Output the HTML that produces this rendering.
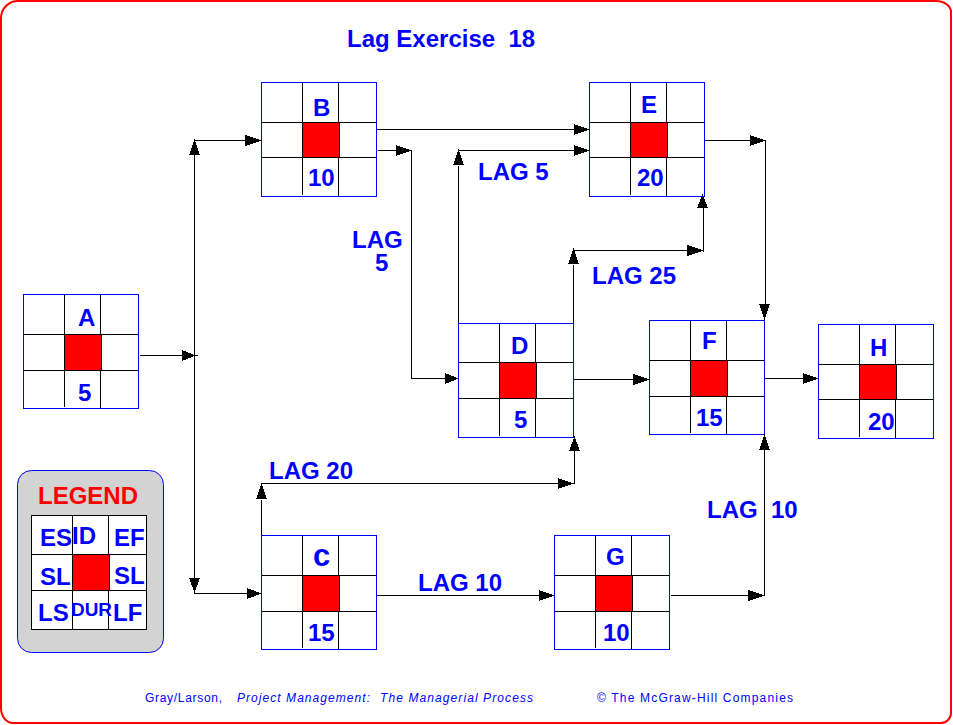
<!DOCTYPE html>
<html><head><meta charset="utf-8"><style>
html,body{margin:0;padding:0;background:#fff;}
body{width:953px;height:725px;overflow:hidden;position:relative;}
svg{position:absolute;left:0;top:0;display:block;}
text{font-family:"Liberation Sans",sans-serif;white-space:pre;}
</style></head><body>
<svg width="953" height="725" viewBox="0 0 953 725">
<path d="M18,1 H936 A15,11 0 0 1 951,12 V713 A10,10 0 0 1 941,723 H13 A12,15 0 0 1 1,708 V18 A17,17 0 0 1 18,1 Z" fill="none" stroke="#ff0000" stroke-width="2"/>
<rect x="17.5" y="470.5" width="146" height="182" rx="14" ry="14" fill="#d3d3d3" stroke="#0000ff" stroke-width="1"/>
<rect x="31" y="515" width="116" height="115" fill="#fff"/>
<g shape-rendering="crispEdges">
<rect x="65" y="335" width="36" height="35" fill="#ff0000"/>
<rect x="64" y="294" width="1" height="113" fill="#000000"/>
<rect x="100" y="294" width="1" height="40" fill="#000000"/>
<rect x="100" y="371" width="1" height="38" fill="#000000"/>
<rect x="101" y="334" width="1" height="37" fill="#000000"/>
<rect x="23" y="334" width="116" height="1" fill="#000000"/>
<rect x="23" y="370" width="116" height="1" fill="#000000"/>
<rect x="23" y="294" width="116" height="1" fill="#0000ff"/>
<rect x="23" y="408" width="116" height="1" fill="#0000ff"/>
<rect x="23" y="294" width="1" height="115" fill="#0000ff"/>
<rect x="138" y="294" width="1" height="115" fill="#0000ff"/>
<rect x="303" y="123" width="36" height="34" fill="#ff0000"/>
<rect x="302" y="82" width="1" height="113" fill="#000000"/>
<rect x="338" y="82" width="1" height="40" fill="#000000"/>
<rect x="338" y="158" width="1" height="39" fill="#000000"/>
<rect x="339" y="122" width="1" height="36" fill="#000000"/>
<rect x="261" y="122" width="116" height="1" fill="#000000"/>
<rect x="261" y="157" width="116" height="1" fill="#000000"/>
<rect x="261" y="82" width="116" height="1" fill="#0000ff"/>
<rect x="261" y="196" width="116" height="1" fill="#0000ff"/>
<rect x="261" y="82" width="1" height="115" fill="#0000ff"/>
<rect x="376" y="82" width="1" height="115" fill="#0000ff"/>
<rect x="303" y="576" width="36" height="35" fill="#ff0000"/>
<rect x="302" y="535" width="1" height="113" fill="#000000"/>
<rect x="338" y="535" width="1" height="40" fill="#000000"/>
<rect x="338" y="612" width="1" height="38" fill="#000000"/>
<rect x="339" y="575" width="1" height="37" fill="#000000"/>
<rect x="261" y="575" width="116" height="1" fill="#000000"/>
<rect x="261" y="611" width="116" height="1" fill="#000000"/>
<rect x="261" y="535" width="116" height="1" fill="#0000ff"/>
<rect x="261" y="649" width="116" height="1" fill="#0000ff"/>
<rect x="261" y="535" width="1" height="115" fill="#0000ff"/>
<rect x="376" y="535" width="1" height="115" fill="#0000ff"/>
<rect x="500" y="363" width="36" height="35" fill="#ff0000"/>
<rect x="499" y="323" width="1" height="113" fill="#000000"/>
<rect x="535" y="323" width="1" height="39" fill="#000000"/>
<rect x="535" y="399" width="1" height="39" fill="#000000"/>
<rect x="536" y="362" width="1" height="37" fill="#000000"/>
<rect x="458" y="362" width="116" height="1" fill="#000000"/>
<rect x="458" y="398" width="116" height="1" fill="#000000"/>
<rect x="458" y="323" width="116" height="1" fill="#0000ff"/>
<rect x="458" y="437" width="116" height="1" fill="#0000ff"/>
<rect x="458" y="323" width="1" height="115" fill="#0000ff"/>
<rect x="573" y="323" width="1" height="115" fill="#0000ff"/>
<rect x="631" y="123" width="36" height="34" fill="#ff0000"/>
<rect x="630" y="82" width="1" height="113" fill="#000000"/>
<rect x="666" y="82" width="1" height="40" fill="#000000"/>
<rect x="666" y="158" width="1" height="39" fill="#000000"/>
<rect x="667" y="122" width="1" height="36" fill="#000000"/>
<rect x="589" y="122" width="116" height="1" fill="#000000"/>
<rect x="589" y="157" width="116" height="1" fill="#000000"/>
<rect x="589" y="82" width="116" height="1" fill="#0000ff"/>
<rect x="589" y="196" width="116" height="1" fill="#0000ff"/>
<rect x="589" y="82" width="1" height="115" fill="#0000ff"/>
<rect x="704" y="82" width="1" height="115" fill="#0000ff"/>
<rect x="691" y="361" width="36" height="35" fill="#ff0000"/>
<rect x="690" y="320" width="1" height="113" fill="#000000"/>
<rect x="726" y="320" width="1" height="40" fill="#000000"/>
<rect x="726" y="397" width="1" height="38" fill="#000000"/>
<rect x="727" y="360" width="1" height="37" fill="#000000"/>
<rect x="649" y="360" width="116" height="1" fill="#000000"/>
<rect x="649" y="396" width="116" height="1" fill="#000000"/>
<rect x="649" y="320" width="116" height="1" fill="#0000ff"/>
<rect x="649" y="434" width="116" height="1" fill="#0000ff"/>
<rect x="649" y="320" width="1" height="115" fill="#0000ff"/>
<rect x="764" y="320" width="1" height="115" fill="#0000ff"/>
<rect x="596" y="576" width="36" height="35" fill="#ff0000"/>
<rect x="595" y="535" width="1" height="113" fill="#000000"/>
<rect x="631" y="535" width="1" height="40" fill="#000000"/>
<rect x="631" y="612" width="1" height="38" fill="#000000"/>
<rect x="632" y="575" width="1" height="37" fill="#000000"/>
<rect x="554" y="575" width="116" height="1" fill="#000000"/>
<rect x="554" y="611" width="116" height="1" fill="#000000"/>
<rect x="554" y="535" width="116" height="1" fill="#0000ff"/>
<rect x="554" y="649" width="116" height="1" fill="#0000ff"/>
<rect x="554" y="535" width="1" height="115" fill="#0000ff"/>
<rect x="669" y="535" width="1" height="115" fill="#0000ff"/>
<rect x="860" y="365" width="36" height="34" fill="#ff0000"/>
<rect x="859" y="324" width="1" height="113" fill="#000000"/>
<rect x="895" y="324" width="1" height="40" fill="#000000"/>
<rect x="895" y="400" width="1" height="39" fill="#000000"/>
<rect x="896" y="364" width="1" height="36" fill="#000000"/>
<rect x="818" y="364" width="116" height="1" fill="#000000"/>
<rect x="818" y="399" width="116" height="1" fill="#000000"/>
<rect x="818" y="324" width="116" height="1" fill="#0000ff"/>
<rect x="818" y="438" width="116" height="1" fill="#0000ff"/>
<rect x="818" y="324" width="1" height="115" fill="#0000ff"/>
<rect x="933" y="324" width="1" height="115" fill="#0000ff"/>
<rect x="140" y="355" width="58" height="1" fill="#000000"/>
<polygon points="182,350 195.8,355.5 182,361" fill="#000"/>
<rect x="194" y="155" width="1" height="423" fill="#000000"/>
<polygon points="189,155 194.5,139.2 200,155" fill="#000"/>
<polygon points="189,578 194.5,592.8 200,578" fill="#000"/>
<rect x="194" y="140" width="67" height="1" fill="#000000"/>
<polygon points="245,135 261.8,140.5 245,146" fill="#000"/>
<rect x="194" y="593" width="67" height="1" fill="#000000"/>
<polygon points="247,588 261.8,593.5 247,599" fill="#000"/>
<rect x="377" y="129" width="212" height="1" fill="#000000"/>
<polygon points="574,124 589.8,129.5 574,135" fill="#000"/>
<rect x="378" y="150" width="34" height="1" fill="#000000"/>
<polygon points="396,145 411.8,150.5 396,156" fill="#000"/>
<rect x="411" y="150" width="1" height="229" fill="#000000"/>
<rect x="411" y="378" width="47" height="1" fill="#000000"/>
<polygon points="445,373 458.8,378.5 445,384" fill="#000"/>
<rect x="458" y="166" width="1" height="157" fill="#000000"/>
<polygon points="453,165 458.5,149.2 464,165" fill="#000"/>
<rect x="458" y="150" width="131" height="1" fill="#000000"/>
<polygon points="574,145 589.8,150.5 574,156" fill="#000"/>
<rect x="573" y="265" width="1" height="58" fill="#000000"/>
<polygon points="568,264 573.5,248.2 579,264" fill="#000"/>
<rect x="573" y="250" width="131" height="1" fill="#000000"/>
<polygon points="687,245 703.8,250.5 687,256" fill="#000"/>
<rect x="703" y="208" width="1" height="44" fill="#000000"/>
<polygon points="697,208 702.5,194.2 708,208" fill="#000"/>
<rect x="705" y="140" width="61" height="1" fill="#000000"/>
<polygon points="750,135 765.8,140.5 750,146" fill="#000"/>
<rect x="765" y="141" width="1" height="164" fill="#000000"/>
<polygon points="759,304 764.5,319.8 770,304" fill="#000"/>
<rect x="574" y="379" width="75" height="1" fill="#000000"/>
<polygon points="633,374 649.8,379.5 633,385" fill="#000"/>
<rect x="765" y="378" width="53" height="1" fill="#000000"/>
<polygon points="803,373 818.8,378.5 803,384" fill="#000"/>
<rect x="261" y="500" width="1" height="35" fill="#000000"/>
<polygon points="256,499 261.5,483.2 267,499" fill="#000"/>
<rect x="261" y="483" width="314" height="1" fill="#000000"/>
<polygon points="558,478 573.8,483.5 558,489" fill="#000"/>
<rect x="574" y="451" width="1" height="33" fill="#000000"/>
<polygon points="569,451 574.5,436.2 580,451" fill="#000"/>
<rect x="377" y="595" width="177" height="1" fill="#000000"/>
<polygon points="539,590 554.8,595.5 539,601" fill="#000"/>
<rect x="671" y="595" width="94" height="1" fill="#000000"/>
<polygon points="748,590 764.8,595.5 748,601" fill="#000"/>
<rect x="764" y="450" width="1" height="146" fill="#000000"/>
<polygon points="759,450 764.5,434.2 770,450" fill="#000"/>
<rect x="73" y="555" width="36" height="35" fill="#ff0000"/>
<rect x="31" y="515" width="116" height="1" fill="#000000"/>
<rect x="31" y="629" width="116" height="1" fill="#000000"/>
<rect x="31" y="515" width="1" height="115" fill="#000000"/>
<rect x="146" y="515" width="1" height="115" fill="#000000"/>
<rect x="72" y="515" width="1" height="115" fill="#000000"/>
<rect x="108" y="515" width="1" height="39" fill="#000000"/>
<rect x="108" y="591" width="1" height="39" fill="#000000"/>
<rect x="109" y="554" width="1" height="37" fill="#000000"/>
<rect x="31" y="554" width="116" height="1" fill="#000000"/>
<rect x="31" y="590" width="116" height="1" fill="#000000"/>
</g>
<text x="347" y="47" font-size="24" fill="#0000ff" font-weight="bold" font-style="normal" >Lag Exercise  18</text>
<text x="478" y="180" font-size="24" fill="#0000ff" font-weight="bold" font-style="normal" >LAG 5</text>
<text x="352" y="248" font-size="24" fill="#0000ff" font-weight="bold" font-style="normal" >LAG</text>
<text x="375" y="271" font-size="24" fill="#0000ff" font-weight="bold" font-style="normal" >5</text>
<text x="592" y="284" font-size="24" fill="#0000ff" font-weight="bold" font-style="normal" >LAG 25</text>
<text x="269" y="479" font-size="24" fill="#0000ff" font-weight="bold" font-style="normal" >LAG 20</text>
<text x="418" y="591" font-size="24" fill="#0000ff" font-weight="bold" font-style="normal" >LAG 10</text>
<text x="707" y="518" font-size="24" fill="#0000ff" font-weight="bold" font-style="normal" >LAG  10</text>
<text x="78" y="326" font-size="24" fill="#0000ff" font-weight="bold" font-style="normal" >A</text>
<text x="313" y="116" font-size="24" fill="#0000ff" font-weight="bold" font-style="normal" >B</text>
<text x="511" y="354" font-size="24" fill="#0000ff" font-weight="bold" font-style="normal" >D</text>
<text x="641" y="113" font-size="24" fill="#0000ff" font-weight="bold" font-style="normal" >E</text>
<text x="702" y="349" font-size="24" fill="#0000ff" font-weight="bold" font-style="normal" >F</text>
<text x="606" y="565" font-size="24" fill="#0000ff" font-weight="bold" font-style="normal" >G</text>
<text x="870" y="356" font-size="24" fill="#0000ff" font-weight="bold" font-style="normal" >H</text>
<text x="78" y="401" font-size="24" fill="#0000ff" font-weight="bold" font-style="normal" >5</text>
<text x="308" y="186" font-size="24" fill="#0000ff" font-weight="bold" font-style="normal" >10</text>
<text x="308" y="641" font-size="24" fill="#0000ff" font-weight="bold" font-style="normal" >15</text>
<text x="514" y="428" font-size="24" fill="#0000ff" font-weight="bold" font-style="normal" >5</text>
<text x="637" y="186" font-size="24" fill="#0000ff" font-weight="bold" font-style="normal" >20</text>
<text x="696" y="426" font-size="24" fill="#0000ff" font-weight="bold" font-style="normal" >15</text>
<text x="603" y="641" font-size="24" fill="#0000ff" font-weight="bold" font-style="normal" >10</text>
<text x="868" y="430" font-size="24" fill="#0000ff" font-weight="bold" font-style="normal" >20</text>
<text x="313" y="566" font-size="31" fill="#0000ff" font-weight="bold" font-style="normal" >c</text>
<text x="38" y="504" font-size="24" fill="#ff0000" font-weight="bold" font-style="normal" >LEGEND</text>
<text x="40" y="546" font-size="24" fill="#0000ff" font-weight="bold" font-style="normal" >ES</text>
<text x="72" y="544" font-size="24" fill="#0000ff" font-weight="bold" font-style="normal" >ID</text>
<text x="114" y="546" font-size="24" fill="#0000ff" font-weight="bold" font-style="normal" >EF</text>
<text x="40" y="585" font-size="24" fill="#0000ff" font-weight="bold" font-style="normal" >SL</text>
<text x="114" y="584" font-size="24" fill="#0000ff" font-weight="bold" font-style="normal" >SL</text>
<text x="38" y="621" font-size="24" fill="#0000ff" font-weight="bold" font-style="normal" >LS</text>
<text x="113" y="621" font-size="24" fill="#0000ff" font-weight="bold" font-style="normal" >LF</text>
<text x="71" y="616" font-size="18" fill="#0000ff" font-weight="bold" font-style="normal" textLength="41" lengthAdjust="spacingAndGlyphs">DUR</text>
<text x="145" y="702" font-size="12" fill="#0000ff" font-weight="normal" font-style="normal" textLength="77" lengthAdjust="spacing">Gray/Larson,</text>
<text x="237" y="702" font-size="12" fill="#0000ff" font-weight="normal" font-style="italic" textLength="133" lengthAdjust="spacing">Project Management:</text>
<text x="380" y="702" font-size="12" fill="#0000ff" font-weight="normal" font-style="italic" textLength="153" lengthAdjust="spacing">The Managerial Process</text>
<text x="597" y="702" font-size="12" fill="#0000ff" font-weight="normal" font-style="normal" textLength="196" lengthAdjust="spacing">© The McGraw-Hill Companies</text>
</svg>
</body></html>
